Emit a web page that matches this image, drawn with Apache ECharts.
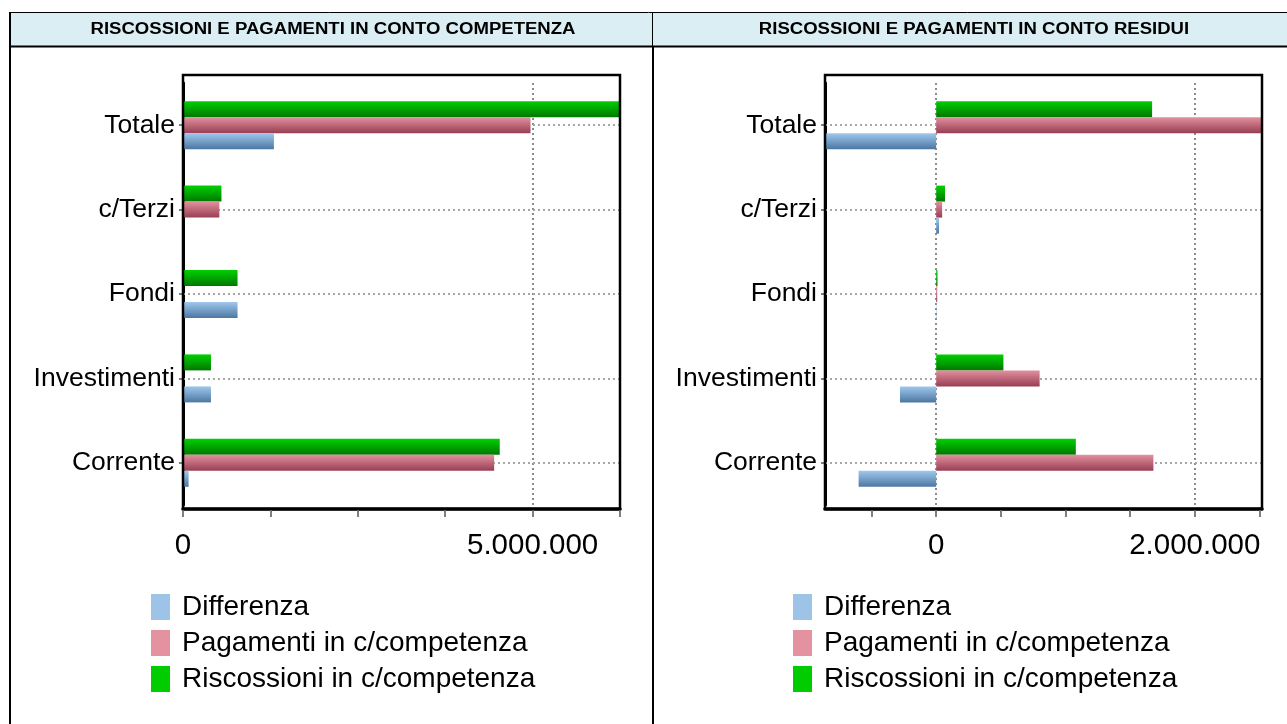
<!DOCTYPE html>
<html>
<head>
<meta charset="utf-8">
<script src="https://cdn.jsdelivr.net/npm/echarts@6/dist/echarts.min.js"></script>
<style>
  html, body { margin: 0; padding: 0; background: #fff; }
  #chart { width: 1287px; height: 724px; }
</style>
</head>
<body>
<div id="chart"></div>
<script>
// categorie dal basso verso l'alto
const categories = ["Corrente", "Investimenti", "Fondi", "c/Terzi", "Totale"];

// competenza
const compRiscossioni = [4530000, 400000, 780000, 550000, 6270000];
const compPagamenti = [4450000, 0, 0, 520000, 4970000];
const compDifferenza = [80000, 400000, 780000, 10000, 1300000];

// residui
const resRiscossioni = [1080000, 520000, 10000, 68000, 1670000];
const resPagamenti = [1680000, 800000, 8000, 46000, 2520000];
const resDifferenza = [-600000, -280000, 2000, 22000, -857000];

const compTicks = [0, 1250000, 2500000, 3750000, 5000000, 6250000];
const compLabels = [0, 5000000];
const resTicks = [-500000, 0, 500000, 1000000, 1500000, 2000000, 2500000];
const resLabels = [0, 2000000];

const headers = ["RISCOSSIONI E PAGAMENTI IN CONTO COMPETENZA", "RISCOSSIONI E PAGAMENTI IN CONTO RESIDUI"];
const seriesNames = ["Riscossioni in c/competenza", "Pagamenti in c/competenza", "Differenza"];
const legendNames = ["Differenza", "Pagamenti in c/competenza", "Riscossioni in c/competenza"];

const FONT = "'Liberation Sans', Arial, sans-serif";

const grad = (top, bottom) =>
  new echarts.graphic.LinearGradient(0, 0, 0, 1, [
    { offset: 0, color: top },
    { offset: 1, color: bottom },
  ]);

const barColors = {
  "Riscossioni in c/competenza": grad("#00d000", "#007800"),
  "Pagamenti in c/competenza": grad("#e2909f", "#983e53"),
  "Differenza": grad("#a0c8ee", "#4b77a0"),
};
const legendColors = {
  "Differenza": "#9dc3e6",
  "Pagamenti in c/competenza": "#e4929f",
  "Riscossioni in c/competenza": "#00cc00",
};

// formato italiano 5.000.000
const fmt = (v) => String(Math.round(v)).replace(/\B(?=(\d{3})+(?!\d))/g, ".");

const chart = echarts.init(document.getElementById("chart"));

const grids = [
  { left: 183, width: 437, top: 83, height: 422 },
  { left: 825, width: 437, top: 83, height: 422 },
];

function xAxisFor(idx, min, max, ticks, labels) {
  return {
    type: "value",
    gridIndex: idx,
    min: min,
    max: max,
    offset: 4,
    axisLine: { show: true, onZero: false, lineStyle: { color: "#000", width: 3.5 } },
    axisTick: { show: true, customValues: ticks, length: 8, lineStyle: { color: "#808080", width: 2 } },
    axisLabel: {
      customValues: labels,
      formatter: fmt,
      color: "#000",
      fontSize: 29.5,
      fontFamily: FONT,
      margin: 22,
    },
    splitLine: { show: false },
  };
}

function yAxisFor(idx) {
  return {
    type: "category",
    gridIndex: idx,
    data: categories,
    axisLine: { show: true, onZero: false, lineStyle: { color: "#000", width: 3 } },
    axisTick: { show: true, alignWithLabel: true, length: 4, lineStyle: { color: "#808080", width: 2 } },
    axisLabel: { color: "#000", fontSize: 26.5, fontFamily: FONT, margin: 8 },
    splitLine: { show: false },
  };
}

const gridDot = { color: "#a6a6a6", width: 2, type: [2, 3] };
const gridDotV = { color: "#8c8c8c", width: 2, type: [2, 3] };

// griglia tratteggiata: verticali sui valori principali, orizzontali al centro delle categorie
function gridLines(vertical) {
  const data = vertical.map((v) => ({ xAxis: v, lineStyle: gridDotV }));
  categories.forEach((c) => data.push({ yAxis: c, lineStyle: gridDot }));
  return {
    silent: true,
    symbol: "none",
    z: 1,
    label: { show: false },
    emphasis: { disabled: true },
    data: data,
  };
}

function seriesFor(idx, values, vLines) {
  return seriesNames.map((name, i) => ({
    name: name,
    type: "bar",
    xAxisIndex: idx,
    yAxisIndex: idx,
    data: values[i],
    barWidth: 16,
    barGap: "0%",
    z: 3,
    itemStyle: { color: barColors[name] },
    emphasis: { disabled: true },
    // la serie centrale porta la griglia, così le linee cadono al centro della categoria
    markLine: i === 1 ? gridLines(vLines) : undefined,
  }));
}

function legendFor(left) {
  return {
    orient: "vertical",
    left: left,
    top: 593,
    padding: 0,
    icon: "rect",
    itemWidth: 19,
    itemHeight: 26,
    itemGap: 8,
    selectedMode: false,
    textStyle: { color: "#000", fontSize: 28, fontFamily: FONT, lineHeight: 26, padding: [0, 0, 0, 7] },
    data: legendNames.map((n) => ({ name: n, itemStyle: { color: legendColors[n] } })),
  };
}

const headerText = (text, x) => ({
  type: "text",
  x: x,
  y: 30,
  scaleX: 1.16,
  style: { text: text, fill: "#000", font: "bold 16px " + FONT, textAlign: "center", textVerticalAlign: "middle" },
  z: 2,
});

// cornice della tabella e intestazioni
const tableGraphics = [
  { type: "rect", shape: { x: 10, y: 13, width: 1277, height: 33 }, style: { fill: "#daeef3" }, z: 0 },
  { type: "line", shape: { x1: 10, y1: 12.5, x2: 1287, y2: 12.5 }, style: { stroke: "#000", lineWidth: 1 }, z: 1 },
  { type: "line", shape: { x1: 9, y1: 46.5, x2: 1287, y2: 46.5 }, style: { stroke: "#000", lineWidth: 2 }, z: 1 },
  { type: "line", shape: { x1: 10, y1: 12, x2: 10, y2: 724 }, style: { stroke: "#000", lineWidth: 2 }, z: 1 },
  { type: "line", shape: { x1: 652.5, y1: 13, x2: 652.5, y2: 46 }, style: { stroke: "#000", lineWidth: 1 }, z: 1 },
  { type: "line", shape: { x1: 653, y1: 46, x2: 653, y2: 724 }, style: { stroke: "#000", lineWidth: 2 }, z: 1 },
  headerText(headers[0], 333),
  headerText(headers[1], 974),
  // cornici delle aree del grafico
  { type: "rect", shape: { x: 183, y: 75, width: 437, height: 434 }, style: { fill: null, stroke: "#000", lineWidth: 2.5 }, z: 10 },
  { type: "rect", shape: { x: 825, y: 75, width: 437, height: 434 }, style: { fill: null, stroke: "#000", lineWidth: 2.5 }, z: 10 },
];

chart.setOption({
  backgroundColor: "#fff",
  animation: false,
  textStyle: { fontFamily: FONT },
  grid: grids,
  xAxis: [
    xAxisFor(0, 0, 6250000, compTicks, compLabels),
    xAxisFor(1, -860000, 2520000, resTicks, resLabels),
  ],
  yAxis: [yAxisFor(0), yAxisFor(1)],
  legend: [legendFor(151), legendFor(793)],
  graphic: tableGraphics,
  series: [
    ...seriesFor(0, [compRiscossioni, compPagamenti, compDifferenza], [5000000]),
    ...seriesFor(1, [resRiscossioni, resPagamenti, resDifferenza], [0, 2000000]),
  ],
});
</script>
</body>
</html>
